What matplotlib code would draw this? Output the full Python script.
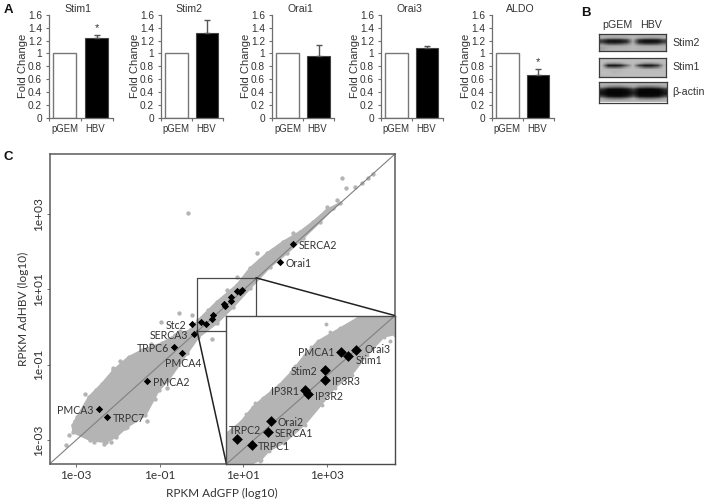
import numpy as np
import matplotlib
matplotlib.use('Agg')
import matplotlib.pyplot as plt

W, H = 705, 501

# panel A
genes = ['Stim1', 'Stim2', 'Orai1', 'Orai3', 'ALDO']
groups = ['pGEM', 'HBV']
pgem = [1, 1, 1, 1, 1]
hbv = [1.24, 1.32, 0.96, 1.08, 0.66]
hbv_err = [0.05, 0.20, 0.17, 0.04, 0.09]
star_y = {'Stim1': 1.39, 'ALDO': 0.87}
fold_ticks = [0, 0.2, 0.4, 0.6, 0.8, 1, 1.2, 1.4, 1.6]
fold_labels = ['0', '0.2', '0.4', '0.6', '0.8', '1', '1.2', '1.4', '1.6']

# panel B, grey levels
blot_names = ['Stim2', 'Stim1', 'β-actin']
blot_stim2 = [[.70, .70, .70, .70, .70, .72, .70, .70, .70, .70, .70],
              [.70, .70, .70, .70, .70, .72, .70, .70, .70, .70, .70],
              [.68, .62, .60, .62, .66, .72, .64, .60, .58, .60, .68],
              [.30, .14, .12, .14, .26, .68, .20, .10, .10, .12, .30],
              [.22, .08, .07, .08, .18, .66, .12, .06, .06, .08, .24],
              [.50, .34, .32, .36, .48, .70, .40, .30, .30, .34, .50],
              [.68, .66, .66, .66, .68, .72, .68, .66, .66, .66, .68],
              [.62, .68, .70, .70, .70, .72, .70, .70, .70, .70, .70],
              [.66, .70, .70, .70, .70, .72, .70, .70, .70, .70, .70]]
blot_stim1 = [[.74, .74, .74, .74, .74, .74, .74, .74, .74, .74, .74],
              [.74, .74, .74, .74, .74, .74, .74, .74, .74, .74, .74],
              [.74, .60, .58, .62, .72, .74, .68, .58, .58, .64, .74],
              [.72, .10, .08, .14, .42, .74, .26, .10, .10, .24, .70],
              [.74, .44, .40, .46, .64, .74, .56, .40, .40, .50, .74],
              [.74, .72, .72, .72, .74, .74, .74, .72, .72, .72, .74],
              [.74, .74, .70, .72, .74, .74, .74, .74, .74, .74, .74],
              [.74, .74, .72, .74, .74, .74, .74, .74, .74, .74, .74],
              [.72, .72, .74, .74, .74, .74, .74, .74, .74, .74, .74]]
blot_actin = [[.70, .70, .70, .70, .70, .70, .70, .70, .70, .70, .70],
              [.70, .68, .68, .68, .70, .70, .68, .68, .68, .68, .70],
              [.62, .50, .46, .46, .54, .64, .48, .44, .44, .50, .62],
              [.22, .05, .04, .04, .10, .26, .05, .03, .03, .06, .20],
              [.10, .02, .02, .02, .04, .16, .02, .02, .02, .02, .12],
              [.08, .02, .02, .02, .04, .14, .02, .02, .02, .02, .10],
              [.26, .08, .05, .05, .12, .32, .06, .05, .05, .08, .28],
              [.62, .48, .44, .44, .52, .66, .48, .44, .44, .50, .64],
              [.72, .70, .70, .70, .70, .72, .70, .70, .70, .70, .72]]

# panel C, log10 RPKM values
cloud_upper_x = [-3.08, -2.97, -2.69, -2.37, -2.10, -1.74, -1.42, -0.94, -0.62, -0.26,
                 -0.07, 0.37, 0.85, 1.17, 1.57, 1.95, 2.36, 2.67, 3.00, 3.32]
cloud_upper_y = [-2.61, -2.39, -1.86, -1.50, -1.15, -0.80, -0.62, -0.43, -0.22, -0.09,
                 0.18, 0.66, 1.11, 1.56, 1.95, 2.25, 2.52, 2.78, 3.10, 3.28]
cloud_lower_x = [-3.06, -2.65, -2.29, -2.05, -1.78, -1.34, -1.02, -0.79, -0.34, -0.07,
                 0.37, 0.76, 1.17, 1.64, 2.04, 2.43, 2.84, 3.15]
cloud_lower_y = [-2.79, -3.00, -3.05, -2.92, -2.65, -2.34, -1.68, -1.41, -0.70, -0.27,
                 0.10, 0.53, 1.03, 1.59, 1.95, 2.35, 2.79, 3.15]
edge_x = [-2.57, -2.33, -2.15, -2.45, -1.82, -1.58, -2.53, -2.29, -1.90, -1.66, -1.10, -0.94,
          -2.85, -2.97, -3.02, -2.75, -1.20, -0.62, -0.50, -0.15, 0.15, 0.62, 1.40, 2.20, 2.95]
edge_y = [-3.05, -3.09, -3.05, -2.87, -2.67, -2.47, -1.68, -1.46, -0.97, -0.80, -1.92, -1.50,
          -2.47, -2.69, -2.50, -2.05, -0.45, -1.05, -0.12, 0.02, 0.45, 0.98, 1.78, 2.48, 3.05]
outlier_x = [-0.33, 1.33, 0.86, -0.54, 0.26, -1.95, -3.16, -3.23, -2.77, 3.36, 3.47, 3.67,
             3.83, 3.98, 4.10, 3.00, 3.24, -0.22, -0.96, -2.10, -1.30, -0.82]
outlier_y = [3.01, 1.95, 1.33, 0.36, -0.32, -0.91, -2.87, -3.12, -1.78, 3.94, 3.68, 3.71,
             3.81, 3.94, 4.05, 3.18, 3.36, 0.31, 0.13, -1.10, -2.50, -1.62]

main_genes = ['SERCA2', 'Orai1', 'Stc2', 'SERCA3', 'TRPC6', 'PMCA4', 'PMCA2', 'PMCA3', 'TRPC7']
main_x = [2.19, 1.89, -0.22, -0.18, -0.65, -0.47, -1.30, -2.44, -2.26]
main_y = [2.19, 1.71, 0.08, -0.19, -0.54, -0.68, -1.44, -2.17, -2.39]

zoom_genes = ['PMCA1', 'Orai3', 'Stim1', 'Stim2', 'IP3R3', 'IP3R1', 'IP3R2', 'Orai2',
              'SERCA1', 'TRPC2', 'TRPC1']
zoom_x = [0.855, 0.977, 0.913, 0.715, 0.715, 0.549, 0.577, 0.269, 0.247, -0.012, 0.112]
zoom_y = [0.961, 0.980, 0.922, 0.788, 0.694, 0.597, 0.559, 0.307, 0.204, 0.135, 0.082]

zoom_upper_x = [-0.10, 0.02, 0.12, 0.20, 0.34, 0.44, 0.55, 0.66, 0.84, 0.99, 1.03, 1.30]
zoom_upper_y = [0.19, 0.30, 0.44, 0.52, 0.65, 0.77, 0.93, 1.06, 1.18, 1.28, 1.30, 1.30]
zoom_lower_x = [-0.10, 0.11, 0.19, 0.25, 0.38, 0.55, 0.69, 0.80, 0.94, 1.07, 1.21, 1.30]
zoom_lower_y = [-0.10, -0.10, -0.06, 0.02, 0.10, 0.27, 0.46, 0.62, 0.74, 0.93, 1.10, 1.12]
zoom_out_x = [0.18, 0.73, 0.14, 1.12, 1.26, 0.06, 0.28, 0.47, 0.60, 0.76, 0.90, 0.33, 0.15]
zoom_out_y = [-0.07, 1.22, 0.48, 1.02, 1.06, 0.37, 0.60, 0.82, 1.00, 1.15, 0.78, 0.13, 0.00]

log_ticks = [-3, -1, 1, 3]
log_labels = ['1e-03', '1e-01', '1e+01', '1e+03']

plt.rcParams['font.family'] = 'Liberation Sans'
TXT = '#333333'
AX = '#6e6e6e'
GREY = '#b4b4b4'
SC_FONT = 'Lato'


def px_axes(x0, y0, x1, y1, **kw):
    # pixel box, y counted from the top of the picture
    return fig.add_axes([x0 / W, 1 - y1 / H, (x1 - x0) / W, (y1 - y0) / H], **kw)


fig = plt.figure(figsize=(W / 100, H / 100), dpi=100)

# panel A
bar_boxes = [(49, 15, 112.5, 117.5), (161, 15, 222.5, 117.5), (272, 15, 334, 117.5),
             (381, 15, 442.5, 117.5), (492, 15, 553.5, 117.5)]
for i, gene in enumerate(genes):
    ax = px_axes(*bar_boxes[i])
    ax.bar([0.5], [pgem[i]], width=0.73, color='white', edgecolor='#777777', linewidth=1)
    ax.bar([1.5], [hbv[i]], width=0.73, color='black', edgecolor='#444444', linewidth=0.8)
    ax.errorbar([1.5], [hbv[i]], yerr=[[0], [hbv_err[i]]], color='#555555', elinewidth=1,
                capsize=2.5, capthick=1, fmt='none', zorder=1)
    ax.set_xlim(0, 2)
    ax.set_ylim(0, 1.6)
    ax.set_yticks(fold_ticks)
    ax.set_yticklabels(fold_labels, fontsize=7.3, color=TXT)
    ax.set_xticks([0, 1, 2])
    ax.set_xticklabels([])
    ax.tick_params(axis='both', length=2.5, width=0.8, color=AX, pad=2.5)
    for s in ['top', 'right']:
        ax.spines[s].set_visible(False)
    for s in ['left', 'bottom']:
        ax.spines[s].set_color(AX)
        ax.spines[s].set_linewidth(0.9)
    ax.set_ylabel('Fold Change', fontsize=8, color=TXT, labelpad=0)
    ax.text(0.5, -0.115, groups[0], transform=ax.get_xaxis_transform(), fontsize=6.9, color=TXT,
            ha='center', va='center')
    ax.text(1.45, -0.115, groups[1], transform=ax.get_xaxis_transform(), fontsize=6.9, color=TXT,
            ha='center', va='center')
    ax.text(0.92, 1.06, gene, transform=ax.get_xaxis_transform(), fontsize=7.6, color=TXT,
            ha='center', va='center')
    if gene in star_y:
        ax.text(1.5, star_y[gene], '*', fontsize=8, color=TXT, ha='center', va='center')

# panel B
blot_boxes = [(598.5, 34, 666, 51.5), (598.5, 58, 666, 77), (598.5, 82, 667, 102.5)]
for data, box, name in zip([blot_stim2, blot_stim1, blot_actin], blot_boxes, blot_names):
    ax = px_axes(*box)
    ax.imshow(np.array(data), cmap='gray', vmin=0, vmax=1, aspect='auto', interpolation='bilinear')
    ax.set_xticks([])
    ax.set_yticks([])
    for s in ax.spines.values():
        s.set_color('#3c3c3c')
        s.set_linewidth(0.9)
    fig.text(672 / W, 1 - (box[1] + box[3]) / 2 / H, name, fontsize=7.7, color=TXT, va='center')
fig.text(617 / W, 1 - 24.5 / H, groups[0], fontsize=7.7, color=TXT, ha='center', va='center')
fig.text(651 / W, 1 - 24.5 / H, groups[1], fontsize=7.7, color=TXT, ha='center', va='center')

fig.text(4 / W, 1 - 10 / H, 'A', fontsize=9.5, fontweight='bold', color='#111111', va='center')
fig.text(581 / W, 1 - 13 / H, 'B', fontsize=9.5, fontweight='bold', color='#111111', va='center')
fig.text(3 / W, 1 - 157 / H, 'C', fontsize=9.5, fontweight='bold', color='#111111', va='center')

# panel C
LO, HI = -3.63, 4.63
ax = px_axes(49.5, 154, 395, 464)
ax.set_xlim(LO, HI)
ax.set_ylim(LO, HI - 0.05)
cloud_x = cloud_upper_x + cloud_lower_x[::-1]
cloud_y = cloud_upper_y + cloud_lower_y[::-1]
ax.fill(cloud_x, cloud_y, color=GREY, linewidth=1.5, zorder=1)
ax.scatter(cloud_x + edge_x, cloud_y + edge_y, s=10, color=GREY, linewidths=0, zorder=1)
ax.scatter(outlier_x, outlier_y, s=10, color=GREY, linewidths=0, zorder=1)
ax.plot([LO, HI], [LO, HI - 0.05], color='#808080', lw=0.8, zorder=2)
ax.scatter(main_x, main_y, marker='D', s=14, color='black', linewidths=0, zorder=3)
ax.scatter(zoom_x, zoom_y, marker='D', s=14, color='black', linewidths=0, zorder=3)

ax.set_xticks(log_ticks)
ax.set_xticklabels(log_labels, fontsize=8.6, color=TXT, family=SC_FONT)
ax.set_yticks(log_ticks)
ax.set_yticklabels(log_labels, fontsize=8.6, color=TXT, family=SC_FONT, rotation=90, va='center')
ax.tick_params(axis='x', length=2, width=0.7, color=AX, pad=2)
ax.tick_params(axis='y', length=2, width=0.7, color=AX, pad=2)
ax.set_xlabel('RPKM AdGFP (log10)', fontsize=8.5, color=TXT, family=SC_FONT, labelpad=5)
ax.set_ylabel('RPKM AdHBV (log10)', fontsize=8.5, color=TXT, family=SC_FONT, labelpad=3)
for s in ax.spines.values():
    s.set_color('#5a5a5a')
    s.set_linewidth(1.1)

# box round the zoomed part and the lines out to the inset
rx0, rx1, ry0, ry1 = -0.10, 1.31, -0.11, 1.30
ix0, iy0, ix1, iy1 = 0.60, LO, HI, 0.30
ax.plot([rx0, rx1, rx1, rx0, rx0], [ry0, ry0, ry1, ry1, ry0], color='#4a4a4a', lw=0.9, zorder=4)
ax.plot([rx0, ix0], [ry0, iy0], color='#222222', lw=1.1, zorder=4)
ax.plot([rx1, ix1], [ry1, iy1], color='#222222', lw=1.1, zorder=4)

label_side = {'SERCA2': (4, 'left'), 'Orai1': (4, 'left'), 'Stc2': (-4, 'right'),
              'SERCA3': (-4, 'right'), 'TRPC6': (-4, 'right'), 'PMCA2': (4, 'left'),
              'PMCA3': (-4, 'right'), 'TRPC7': (4, 'left')}
for g, x, y in zip(main_genes, main_x, main_y):
    if g == 'PMCA4':
        ax.annotate(g, (x, y), xytext=(1, -7.5), textcoords='offset points', fontsize=7.6, color=TXT,
                    family=SC_FONT, ha='center', va='center', zorder=5)
    else:
        dx, ha = label_side[g]
        ax.annotate(g, (x, y), xytext=(dx, -1), textcoords='offset points', fontsize=7.6, color=TXT,
                    family=SC_FONT, ha=ha, va='center', zorder=5)

inset = ax.inset_axes([ix0, iy0, ix1 - ix0, iy1 - iy0], transform=ax.transData, zorder=6)
inset.set_xlim(-0.10, 1.30)
inset.set_ylim(-0.10, 1.30)
in_x = zoom_upper_x + zoom_lower_x[::-1]
in_y = zoom_upper_y + zoom_lower_y[::-1]
inset.fill(in_x, in_y, color=GREY, linewidth=1, zorder=1)
inset.scatter(in_x, in_y, s=8, color=GREY, linewidths=0, zorder=1)
inset.scatter(zoom_out_x, zoom_out_y, s=8, color=GREY, linewidths=0, zorder=1)
inset.plot([-0.10, 1.30], [-0.10, 1.30], color='#808080', lw=0.8, zorder=2)
inset.scatter(zoom_x, zoom_y, marker='D', s=30, color='black', linewidths=0, zorder=3)
inset.set_xticks([])
inset.set_yticks([])
for s in inset.spines.values():
    s.set_color('#4a4a4a')
    s.set_linewidth(1.0)

zoom_offset = {'PMCA1': (-5, -1, 'right'), 'Orai3': (6, 0, 'left'), 'Stim1': (5, -3.5, 'left'),
               'Stim2': (-5, -1, 'right'), 'IP3R3': (5, -1, 'left'), 'IP3R1': (-4, -1, 'right'),
               'IP3R2': (5, -2, 'left'), 'Orai2': (5, -1, 'left'), 'SERCA1': (5, -1, 'left'),
               'TRPC2': (-6, 6, 'left'), 'TRPC1': (4, -1, 'left')}
for g, x, y in zip(zoom_genes, zoom_x, zoom_y):
    dx, dy, ha = zoom_offset[g]
    inset.annotate(g, (x, y), xytext=(dx, dy), textcoords='offset points', fontsize=7.6, color=TXT,
                   family=SC_FONT, ha=ha, va='center', zorder=5)

fig.savefig('out.png', dpi=100)
